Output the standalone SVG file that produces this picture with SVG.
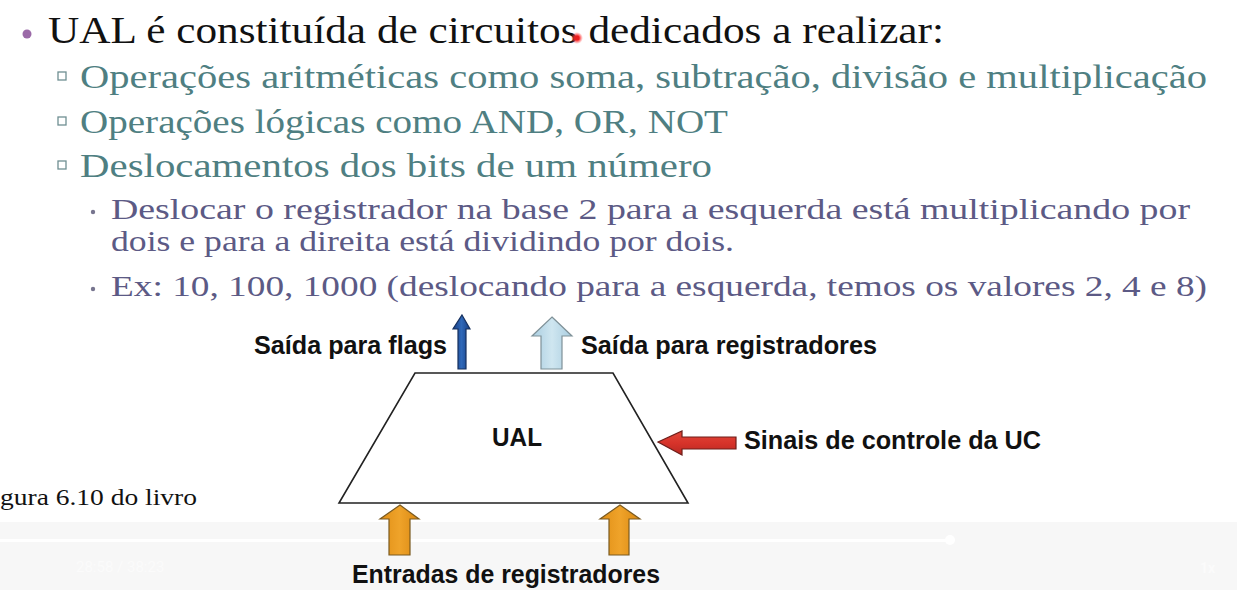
<svg xmlns="http://www.w3.org/2000/svg" width="1237" height="590" viewBox="0 0 1237 590">
<defs>
<style>
.t1{font-family:"Liberation Serif","DejaVu Serif",serif;font-size:37px;fill:#111}
.t2{font-family:"Liberation Serif","DejaVu Serif",serif;font-size:34px;fill:#4f7f82}
.t3{font-family:"Liberation Serif","DejaVu Serif",serif;font-size:30px;fill:#5c5a85}
.lbl{font-family:"Liberation Sans",Arial,sans-serif;font-weight:bold;font-size:25px;fill:#111}
.cap{font-family:"Liberation Serif","DejaVu Serif",serif;font-size:24px;fill:#111}
.sq{fill:none;stroke:#6f8f92;stroke-width:1.3}
.arr{stroke-width:1.2;stroke-linejoin:miter}
</style>
<linearGradient id="gBlue" x1="0" y1="0" x2="1" y2="0"><stop offset="0" stop-color="#163f86"/><stop offset="0.5" stop-color="#2f68b8"/><stop offset="1" stop-color="#163f86"/></linearGradient>
<linearGradient id="gLight" x1="0" y1="0" x2="1" y2="0"><stop offset="0" stop-color="#a9cde0"/><stop offset="0.5" stop-color="#cfe6f0"/><stop offset="1" stop-color="#a9cde0"/></linearGradient>
<linearGradient id="gRed" x1="0" y1="0" x2="0" y2="1"><stop offset="0" stop-color="#e0483a"/><stop offset="0.5" stop-color="#d7332a"/><stop offset="1" stop-color="#b82822"/></linearGradient>
<linearGradient id="gOr" x1="0" y1="0" x2="1" y2="0"><stop offset="0" stop-color="#e08f16"/><stop offset="0.5" stop-color="#efa32a"/><stop offset="1" stop-color="#d98812"/></linearGradient>
<radialGradient id="gDot"><stop offset="0" stop-color="#ff2a2a"/><stop offset="0.5" stop-color="#ff3030" stop-opacity="0.8"/><stop offset="1" stop-color="#ff6060" stop-opacity="0"/></radialGradient>
</defs>
<rect width="1237" height="590" fill="#ffffff"/>

<g id="video-overlay">
<rect x="0" y="522" width="1237" height="68" fill="#f7f7f7"/>
<rect x="0" y="539" width="950" height="3" fill="#ffffff"/>
<circle cx="950" cy="540" r="5" fill="#ffffff"/>
<text x="76" y="572" font-family="Roboto,'Liberation Sans',sans-serif" font-size="15" fill="#fbfbfb">28:58 / 38:23</text>
<text x="1200" y="573" font-family="Roboto,'Liberation Sans',sans-serif" font-size="14" font-weight="bold" fill="#fbfbfb">1x</text>
</g>

<g id="text-bullets">
<circle cx="27" cy="34" r="4.5" fill="#9b6aa8"/>
<text class="t1" x="48" y="43" textLength="896" lengthAdjust="spacingAndGlyphs">UAL é constituída de circuitos dedicados a realizar:</text>
<rect class="sq" x="58" y="72" width="8" height="8"/>
<text class="t2" x="80" y="88" textLength="1127" lengthAdjust="spacingAndGlyphs">Operações aritméticas como soma, subtração, divisão e multiplicação</text>
<rect class="sq" x="58" y="117" width="8" height="8"/>
<text class="t2" x="80" y="133" textLength="648" lengthAdjust="spacingAndGlyphs">Operações lógicas como AND, OR, NOT</text>
<rect class="sq" x="58" y="161" width="8" height="8"/>
<text class="t2" x="80" y="177" textLength="632" lengthAdjust="spacingAndGlyphs">Deslocamentos dos bits de um número</text>
<circle cx="93" cy="212" r="2.2" fill="#77758f"/>
<text class="t3" x="111" y="219" textLength="1079" lengthAdjust="spacingAndGlyphs">Deslocar o registrador na base 2 para a esquerda está multiplicando por</text>
<text class="t3" x="111" y="251" textLength="623" lengthAdjust="spacingAndGlyphs">dois e para a direita está dividindo por dois.</text>
<circle cx="93" cy="289" r="2.2" fill="#77758f"/>
<text class="t3" x="111" y="296" textLength="1096" lengthAdjust="spacingAndGlyphs">Ex: 10, 100, 1000 (deslocando para a esquerda, temos os valores 2, 4 e 8)</text>
<circle cx="577" cy="38" r="6" fill="url(#gDot)"/>
<circle cx="577" cy="38" r="2.5" fill="#e82020"/>
</g>

<g id="caption">
<text class="cap" x="0" y="505" textLength="197" lengthAdjust="spacingAndGlyphs">gura 6.10 do livro</text>
</g>

<g id="ual">
<polygon points="415,373 613,373 688,503 339,503" fill="#ffffff" stroke="#222" stroke-width="1.6"/>
<text class="lbl" x="517" y="446" text-anchor="middle" textLength="50" lengthAdjust="spacingAndGlyphs">UAL</text>
</g>

<g id="label-flags"><text class="lbl" x="254" y="354" textLength="193" lengthAdjust="spacingAndGlyphs">Saída para flags</text></g>
<g id="label-regs-out"><text class="lbl" x="581" y="354" textLength="296" lengthAdjust="spacingAndGlyphs">Saída para registradores</text></g>
<g id="label-uc"><text class="lbl" x="744" y="449" textLength="297" lengthAdjust="spacingAndGlyphs">Sinais de controle da UC</text></g>
<g id="label-regs-in"><text class="lbl" x="352" y="583" textLength="308" lengthAdjust="spacingAndGlyphs">Entradas de registradores</text></g>

<g id="connectors">
<polygon class="arr" points="462,315 470,329 466,329 466,369 458,369 458,329 453,329" fill="url(#gBlue)" stroke="#16305e"/>
<polygon class="arr" points="552,317 572,336 562,336 562,369 541,369 541,336 532,336" fill="url(#gLight)" stroke="#7f9198"/>
<polygon class="arr" points="658,442 682,431 682,437 736,437 736,449 682,449 682,455" fill="url(#gRed)" stroke="#6e1e1a"/>
<polygon class="arr" points="400,505 419,519 410,519 410,555 389,555 389,519 380,519" fill="url(#gOr)" stroke="#7a5a20"/>
<polygon class="arr" points="620,505 640,519 629,519 629,555 609,555 609,519 600,519" fill="url(#gOr)" stroke="#7a5a20"/>
</g>
</svg>
